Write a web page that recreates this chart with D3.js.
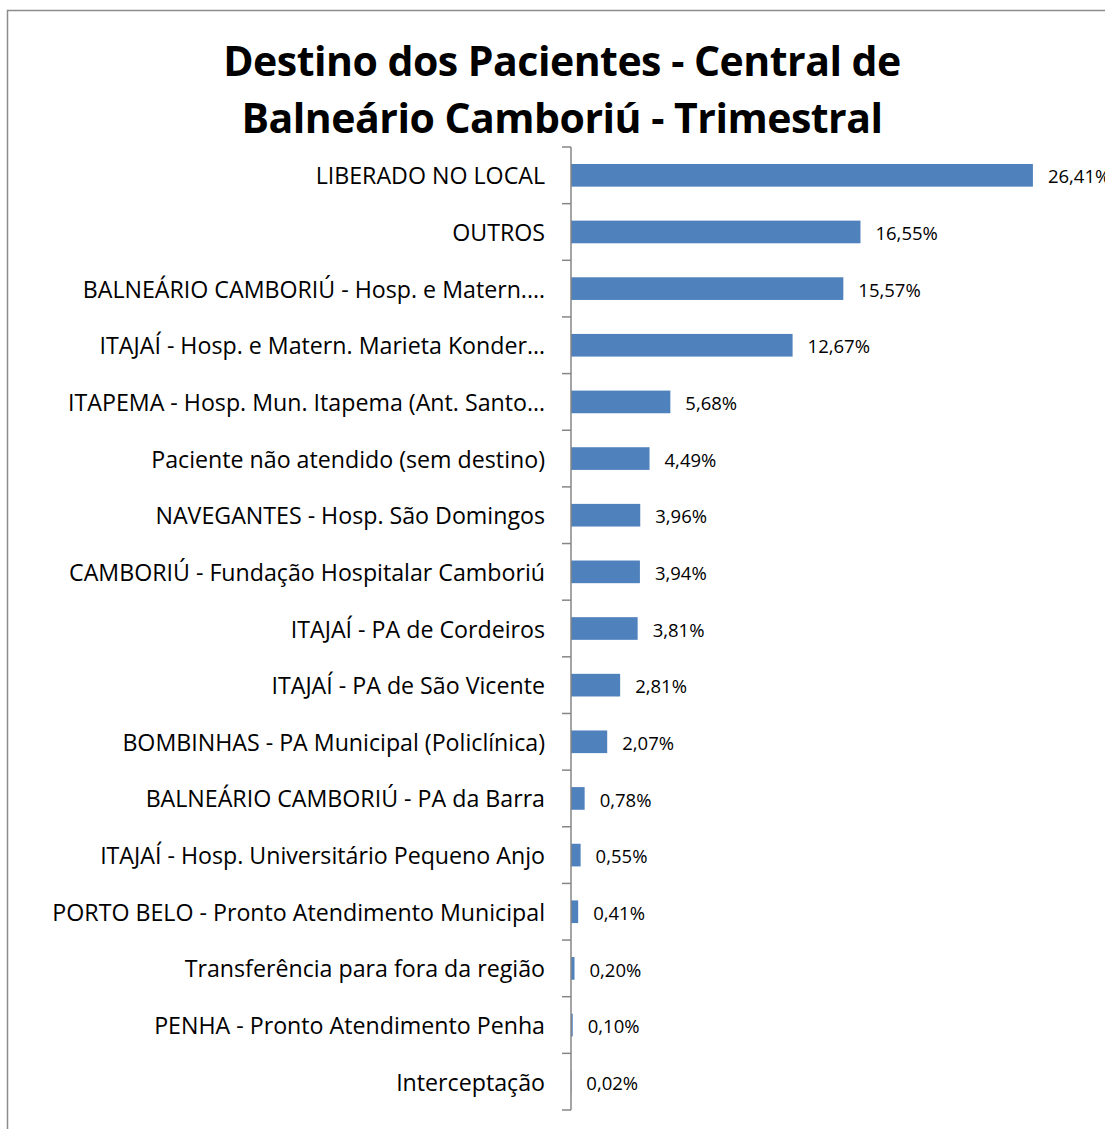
<!DOCTYPE html>
<html><head><meta charset="utf-8">
<script src="https://cdn.jsdelivr.net/npm/d3@7"></script>
<style>body{margin:0;background:#fff}svg{display:block}</style>
</head><body>
<svg id="c" width="1105" height="1129"></svg>
<script>
const categories = [
  "LIBERADO NO LOCAL",
  "OUTROS",
  "BALNEÁRIO CAMBORIÚ - Hosp.  e Matern.…",
  "ITAJAÍ - Hosp. e Matern. Marieta Konder…",
  "ITAPEMA - Hosp. Mun. Itapema (Ant. Santo…",
  "Paciente não atendido (sem destino)",
  "NAVEGANTES - Hosp. São Domingos",
  "CAMBORIÚ - Fundação Hospitalar Camboriú",
  "ITAJAÍ - PA de Cordeiros",
  "ITAJAÍ - PA de São Vicente",
  "BOMBINHAS - PA Municipal (Policlínica)",
  "BALNEÁRIO CAMBORIÚ - PA da Barra",
  "ITAJAÍ - Hosp. Universitário Pequeno Anjo",
  "PORTO BELO - Pronto Atendimento Municipal",
  "Transferência para fora da região",
  "PENHA - Pronto Atendimento Penha",
  "Interceptação"
];
const values = [26.41, 16.55, 15.57, 12.67, 5.68, 4.49, 3.96, 3.94, 3.81, 2.81, 2.07, 0.78, 0.55, 0.41, 0.20, 0.10, 0.02];
const titleLines = ["Destino dos Pacientes - Central de", "Balneário Camboriú - Trimestral"];

const svg = d3.select("#c");
const font = "'Open Sans', 'Liberation Sans', sans-serif";

// outer border
svg.append("rect").attr("x", 7.5).attr("y", 10.5).attr("width", 1120).attr("height", 1140)
  .attr("fill", "none").attr("stroke", "#8c8c8c").attr("stroke-width", 1.5);

// title
svg.append("g").selectAll("text").data(titleLines).join("text")
  .attr("x", 562).attr("y", (d, i) => 76 + i * 57)
  .attr("text-anchor", "middle")
  .attr("font-family", font).attr("font-weight", "bold").attr("font-size", 41)
  .attr("letter-spacing", -0.5)
  .attr("fill", "#000").text(d => d);

const x0 = 571, yTop = 147, yBottom = 1110;
const x = d3.scaleLinear().domain([0, 30]).range([x0, x0 + 30 * 17.49]);
const y = d3.scaleBand().domain(categories).range([yTop, yBottom]).paddingInner(0.6).paddingOuter(0.3);
const band = d3.scaleBand().domain(categories).range([yTop, yBottom]);

// bars
svg.append("g").selectAll("rect").data(values).join("rect")
  .attr("x", x(0)).attr("y", (d, i) => y(categories[i]))
  .attr("width", d => x(d) - x(0)).attr("height", y.bandwidth())
  .attr("fill", "#4F81BD");

// axis line and ticks
const ax = svg.append("g").attr("stroke", "#868686").attr("stroke-width", 1.5);
ax.append("line").attr("x1", x0).attr("x2", x0).attr("y1", yTop).attr("y2", yBottom);
const tickYs = categories.map(c => band(c)).concat([yBottom]);
ax.selectAll("line.t").data(tickYs).join("line").attr("class", "t")
  .attr("x1", x0 - 9).attr("x2", x0).attr("y1", d => d).attr("y2", d => d);

// category labels
svg.append("g").selectAll("text").data(categories).join("text")
  .attr("x", 545).attr("y", d => band(d) + band.bandwidth() / 2)
  .attr("dy", "0.39em").attr("text-anchor", "end")
  .attr("font-family", font).attr("font-size", 23.2).attr("fill", "#000")
  .text(d => d);

// value labels
const fmt = v => v.toFixed(2).replace(".", ",") + "%";
svg.append("g").selectAll("text").data(values).join("text")
  .attr("x", d => x(d) + 15).attr("y", (d, i) => band(categories[i]) + band.bandwidth() / 2)
  .attr("dy", "0.44em")
  .attr("font-family", font).attr("font-size", 18.5).attr("fill", "#000")
  .text(fmt);
</script>
</body></html>
